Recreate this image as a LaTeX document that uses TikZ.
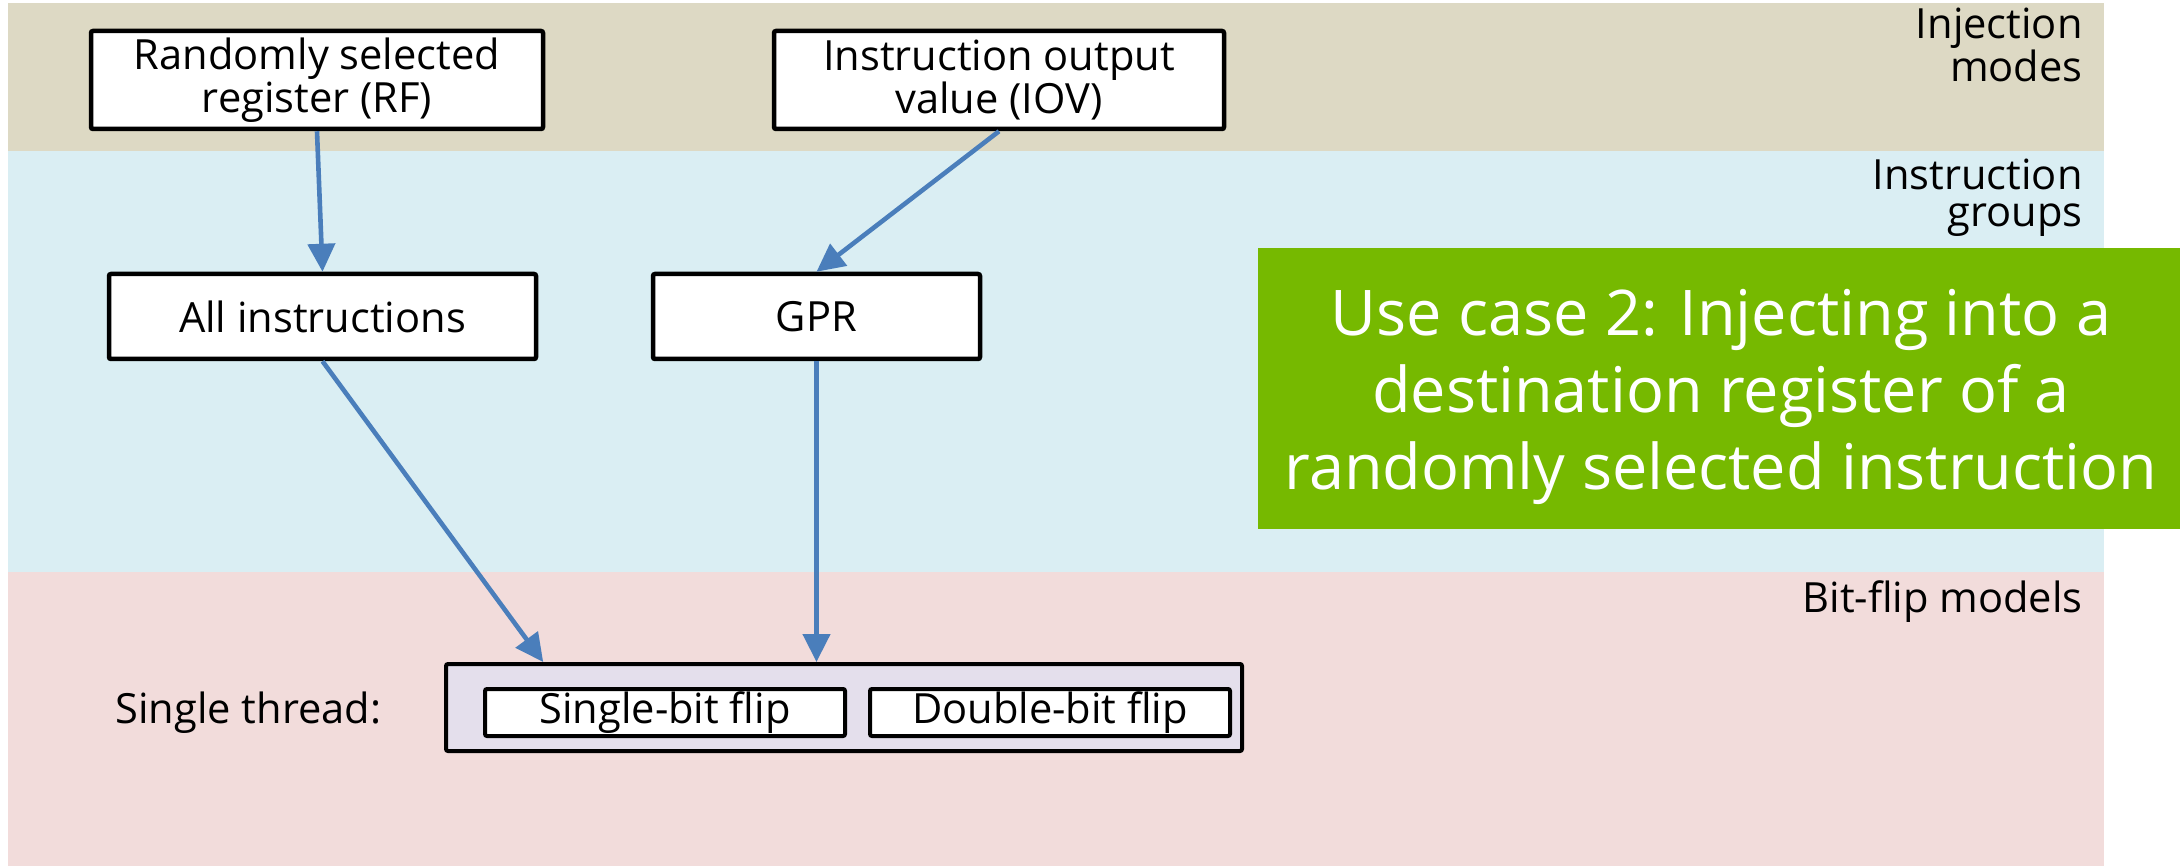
\documentclass[tikz,border=0pt]{standalone}
\usepackage{fontspec}
\setmainfont{Open Sans}
\usetikzlibrary{arrows.meta,calc}

\definecolor{bandtan}{HTML}{DDD9C4}
\definecolor{bandblue}{HTML}{DAEEF3}
\definecolor{bandpink}{HTML}{F2DCDB}
\definecolor{threadfill}{HTML}{E4DFEC}
\definecolor{linkblue}{HTML}{4A7EBB}
\definecolor{nvgreen}{HTML}{76B900}

\tikzset{
  boxtext/.style={font=\fontsize{20.8}{18.75}\selectfont},
  modebox/.style={draw=black, fill=white, line width=2.25pt, rounded corners=1pt,
    inner sep=0pt, align=center, boxtext},
  threadbox/.style={draw=black, fill=threadfill, line width=2pt, rounded corners=1pt, inner sep=0pt},
  flipbox/.style={draw=black, fill=white, line width=2pt, rounded corners=1pt,
    inner sep=0pt, minimum width=180pt, minimum height=23.5pt, boxtext},
  bandlabel/.style={anchor=base east, align=right, inner sep=0pt, boxtext},
  link/.style={draw=linkblue, line width=2.3pt, -{Triangle[width=13.5pt,length=14pt]}},
}

\begin{document}
\begin{tikzpicture}[x=0.5pt,y=-0.5pt]
  \useasboundingbox[fill=white] (0,0) rectangle (2180,866);

  % layer bands
  \fill[bandtan]  (8,3)   rectangle (2104,151);
  \fill[bandblue] (8,151) rectangle (2104,572);
  \fill[bandpink] (8,572) rectangle (2104,866);

  % band titles (base anchor sits on the last line)
  \node[bandlabel] (lmodes)  at (2083,82)  {Injection\\modes};
  \node[bandlabel] (lgroups) at (2083,227) {Instruction\\groups};
  \node[bandlabel] (lbits)   at (2083,612) {Bit-flip models};

  % injection modes
  \node[modebox, minimum width=226pt, minimum height=49pt] (rf)  at (317,80)
    {Randomly selected\\register (RF)};
  \node[modebox, minimum width=225pt, minimum height=49pt] (iov) at (999,80)
    {Instruction output\\value (IOV)};

  % instruction groups
  \node[modebox, minimum width=213.5pt, minimum height=42.5pt] (all) at (322.5,316.5)
    {All instructions};
  \node[modebox, minimum width=163.5pt, minimum height=42.5pt] (gpr) at (816.5,316.5)
    {GPR};

  % bit-flip models
  \node[boxtext, anchor=base, inner sep=0pt] (st) at (248.5,723) {Single thread:};
  \node[threadbox, minimum width=398pt, minimum height=43.5pt] (thread) at (844,707.5) {};
  \node[flipbox] (single) at (665,712.5)  {Single-bit flip};
  \node[flipbox] (double) at (1050,712.5) {Double-bit flip};

  % use-case banner
  \node[fill=nvgreen, inner sep=0pt, minimum width=461pt, minimum height=140.5pt] (usecase)
    at (1719,388.5) {};
  \node[text=white, inner sep=0pt, align=center, font=\fontsize{31.5}{38.5}\selectfont]
    (usecasetext) at ($(usecase.center)+(2,8)$)
    {Use case 2: Injecting into a\\destination register of a\\randomly selected instruction};

  % connectors
  \draw[link] (rf.south) -- (all.north);
  \draw[link] (iov.south) -- (gpr.north);
  \draw[link] (all.south) -- ($(thread.north west)!0.124!(thread.north east)$);
  \draw[link] (gpr.south) -- (gpr.south |- thread.north);
\end{tikzpicture}
\end{document}
